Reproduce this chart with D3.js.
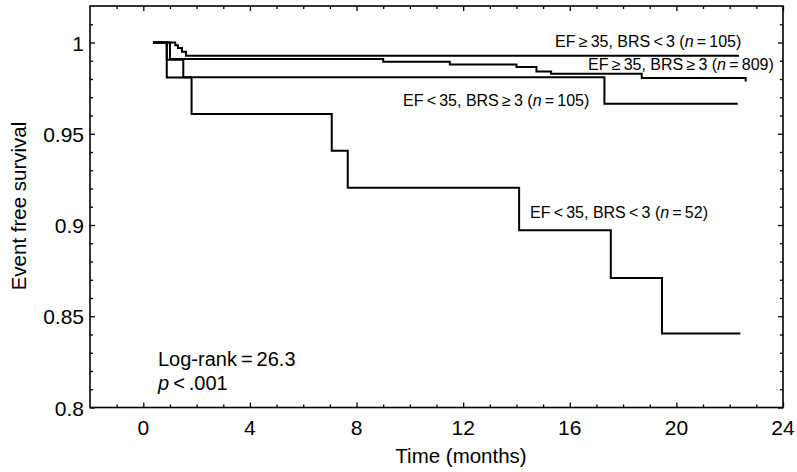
<!DOCTYPE html>
<html><head><meta charset="utf-8">
<script src="https://cdn.jsdelivr.net/npm/d3@7"></script>
<style>body{margin:0;background:#fff}svg{display:block}text{font-family:"Liberation Sans",Arial,sans-serif;fill:#000}</style>
</head><body><svg id="c" width="797" height="472"></svg>
<script>
// Data (months, event-free survival)
const tA = [0.37, 1.2, 1.3, 1.45, 1.6, 22.35];          // EF≥35, BRS<3 (n=105)
const sA = [1.0, 0.9985, 0.997, 0.995, 0.9927, 0.9927];
const tB = [0.37, 1.0, 9.0, 11.5, 14.0, 14.75, 15.3, 18.7, 22.6]; // EF≥35, BRS≥3 (n=809)
const sB = [1.0, 0.991, 0.9895, 0.988, 0.9866, 0.9841, 0.9829, 0.9805, 0.9786];
const tC = [0.37, 0.88, 1.5, 17.3, 22.3];               // EF<35, BRS≥3 (n=105)
const sC = [1.0, 0.9905, 0.981, 0.9664, 0.9664];
const tD = [0.37, 0.88, 1.81, 7.07, 7.67, 14.1, 17.54, 19.46, 22.4]; // EF<35, BRS<3 (n=52)
const sD = [1.0, 0.9808, 0.9608, 0.9407, 0.9204, 0.8971, 0.871, 0.8405, 0.8405];
const xMajor = [0, 4, 8, 12, 16, 20, 24];
const yMajor = [0.8, 0.85, 0.9, 0.95, 1];
const yLabels = ["0.8", "0.85", "0.9", "0.95", "1"];

const svg = d3.select("#c");
const L = 90, R = 783, T = 6, B = 407.5;
const x = d3.scaleLinear().domain([-2, 24]).range([L, R]);
const y = d3.scaleLinear().domain([0.8, 1.02]).range([B, T]);

const xMinor = d3.range(-1, 24, 1).filter(v => !xMajor.includes(v));
const yMinor = d3.range(81, 102, 1).map(v => v / 100).filter(v => !yMajor.some(m => Math.abs(m - v) < 1e-9));

function tickAxes(axisFn, scale, vals, len, pos) {
  const g = svg.append("g").attr("transform", pos);
  g.call(axisFn(scale).tickValues(vals).tickSize(len).tickSizeOuter(0).tickFormat(""));
  g.select(".domain").remove();
  g.selectAll("line").attr("stroke", "#000").attr("stroke-width", 1.3);
  return g;
}
tickAxes(d3.axisTop, x, xMinor, 3, `translate(0,${B})`);
tickAxes(d3.axisTop, x, xMajor, 5, `translate(0,${B})`);
tickAxes(d3.axisBottom, x, xMinor, 3, `translate(0,${T})`);
tickAxes(d3.axisBottom, x, xMajor, 5, `translate(0,${T})`);
tickAxes(d3.axisRight, y, yMinor, 3, `translate(${L},0)`);
tickAxes(d3.axisRight, y, yMajor, 5, `translate(${L},0)`);
tickAxes(d3.axisLeft, y, yMinor, 3, `translate(${R},0)`);
tickAxes(d3.axisLeft, y, yMajor, 5, `translate(${R},0)`);

// tick labels
svg.append("g").selectAll("text").data(xMajor).join("text")
  .attr("x", d => x(d)).attr("y", B + 27).attr("text-anchor", "middle")
  .attr("font-size", 21).text(d => d);
svg.append("g").selectAll("text").data(yMajor).join("text")
  .attr("x", L - 6).attr("y", d => y(d) + 8).attr("text-anchor", "end")
  .attr("font-size", 21).text((d, i) => yLabels[i]);

// frame
svg.append("rect").attr("x", L).attr("y", T).attr("width", R - L).attr("height", B - T)
  .attr("fill", "none").attr("stroke", "#000").attr("stroke-width", 1.6);

// axis titles
svg.append("text").attr("x", 461).attr("y", 463).attr("text-anchor", "middle")
  .attr("font-size", 20.5).text("Time (months)");
svg.append("text").attr("transform", "translate(26,206) rotate(-90)").attr("text-anchor", "middle")
  .attr("font-size", 20.5).text("Event free survival");

// curves
const line = d3.line().x(d => x(d[0])).y(d => y(d[1])).curve(d3.curveStepAfter);
[[tA, sA], [tB, sB], [tC, sC], [tD, sD]].forEach(([t, s]) => {
  svg.append("path").datum(t.map((v, i) => [v, s[i]])).attr("d", line)
    .attr("fill", "none").attr("stroke", "#000").attr("stroke-width", 2);
});

// labels
function lab(xp, yp, parts) {
  const t = svg.append("text").attr("x", xp).attr("y", yp).attr("font-size", 16);
  parts.forEach(p => {
    const ts = t.append("tspan").text(p[0]);
    if (p[1]) ts.attr("font-style", "italic");
  });
}
lab(555, 47, [["EF\u2009\u2265\u200935, BRS\u2009<\u20093 ("], ["n", 1], ["\u2009=\u2009105)"]]);
lab(588, 70, [["EF\u2009\u2265\u200935, BRS\u2009\u2265\u20093 ("], ["n", 1], ["\u2009=\u2009809)"]]);
lab(403, 106, [["EF\u2009<\u200935, BRS\u2009\u2265\u20093 ("], ["n", 1], ["\u2009=\u2009105)"]]);
lab(530, 218, [["EF\u2009<\u200935, BRS\u2009<\u20093 ("], ["n", 1], ["\u2009=\u200952)"]]);

const lr = svg.append("text").attr("x", 158).attr("y", 366).attr("font-size", 20);
lr.text("Log-rank\u2009=\u200926.3");
const pv = svg.append("text").attr("x", 158).attr("y", 390).attr("font-size", 20);
pv.append("tspan").attr("font-style", "italic").text("p");
pv.append("tspan").text("\u2009<\u2009.001");
</script></body></html>
